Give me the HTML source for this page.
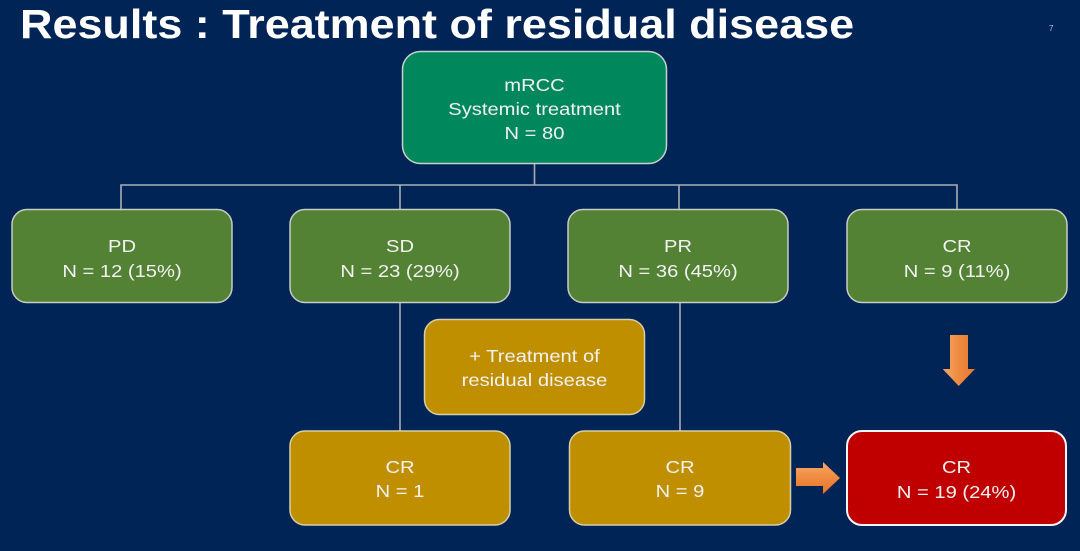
<!DOCTYPE html>
<html>
<head>
<meta charset="utf-8">
<style>
html,body{margin:0;padding:0;background:#002456;}
body{width:1080px;height:551px;overflow:hidden;}
svg{display:block;}
text{font-family:"Liberation Sans",Arial,sans-serif;}
</style>
</head>
<body>
<svg width="1080" height="551" viewBox="0 0 1080 551" xmlns="http://www.w3.org/2000/svg">
<defs>
<linearGradient id="og" x1="0" y1="0" x2="1" y2="0">
<stop offset="0" stop-color="#f7a766"/>
<stop offset="0.5" stop-color="#f08a40"/>
<stop offset="1" stop-color="#e6772c"/>
</linearGradient>
<linearGradient id="og2" x1="0" y1="0" x2="0" y2="1">
<stop offset="0" stop-color="#f7a766"/>
<stop offset="0.5" stop-color="#f08a40"/>
<stop offset="1" stop-color="#e6772c"/>
</linearGradient>
</defs>
<rect x="0" y="0" width="1080" height="551" fill="#002456"/>

<!-- Title -->
<text transform="translate(20,38) scale(1.11,1)" font-size="40.5" font-weight="bold" fill="#ffffff">Results : Treatment of residual disease</text>
<text x="1049" y="31" font-size="8" fill="#b8c4d8">7</text>

<!-- connectors -->
<g stroke="#a9adb5" stroke-width="1.6" fill="none">
<line x1="534.5" y1="164" x2="534.5" y2="185"/>
<polyline points="121,209 121,185 957,185 957,209"/>
<line x1="400" y1="185" x2="400" y2="209"/>
<line x1="679" y1="185" x2="679" y2="209"/>
<line x1="400" y1="303" x2="400" y2="431"/>
<line x1="680" y1="303" x2="680" y2="431"/>
</g>

<!-- top box -->
<rect x="402.5" y="51.5" width="264" height="112" rx="18" fill="#00875b" stroke="#c8d2cc" stroke-width="1.5"/>
<g font-size="18" fill="#f2f2f2" text-anchor="middle">
<text transform="translate(534.5,91) scale(1.12,1)">mRCC</text>
<text transform="translate(534.5,115) scale(1.12,1)">Systemic treatment</text>
<text transform="translate(534.5,139) scale(1.12,1)">N = 80</text>
</g>

<!-- second row -->
<g fill="#548235" stroke="#c8ccc4" stroke-width="1.5">
<rect x="12" y="209.5" width="220" height="93" rx="15"/>
<rect x="290" y="209.5" width="220" height="93" rx="15"/>
<rect x="568" y="209.5" width="220" height="93" rx="15"/>
<rect x="847" y="209.5" width="220" height="93" rx="15"/>
</g>
<g font-size="18" fill="#f2f2f2" text-anchor="middle">
<text transform="translate(122,252) scale(1.12,1)">PD</text>
<text transform="translate(122,277) scale(1.12,1)">N = 12 (15%)</text>
<text transform="translate(400,252) scale(1.12,1)">SD</text>
<text transform="translate(400,277) scale(1.12,1)">N = 23 (29%)</text>
<text transform="translate(678,252) scale(1.12,1)">PR</text>
<text transform="translate(678,277) scale(1.12,1)">N = 36 (45%)</text>
<text transform="translate(957,252) scale(1.12,1)">CR</text>
<text transform="translate(957,277) scale(1.12,1)">N = 9 (11%)</text>
</g>

<!-- treatment box -->
<rect x="424.5" y="319.5" width="220" height="95" rx="15" fill="#bf8f00" stroke="#d8cfa8" stroke-width="1.5"/>
<g font-size="18" fill="#f2f2f2" text-anchor="middle">
<text transform="translate(534.5,362) scale(1.12,1)">+ Treatment of</text>
<text transform="translate(534.5,386) scale(1.12,1)">residual disease</text>
</g>

<!-- third row -->
<g fill="#bf8f00" stroke="#d8cfa8" stroke-width="1.5">
<rect x="290" y="431" width="220" height="94" rx="15"/>
<rect x="569.5" y="431" width="221" height="94" rx="15"/>
</g>
<rect x="847" y="431" width="219" height="94" rx="15" fill="#c00000" stroke="#f4f4f4" stroke-width="2"/>
<g font-size="18" fill="#f2f2f2" text-anchor="middle">
<text transform="translate(400,473) scale(1.12,1)">CR</text>
<text transform="translate(400,497) scale(1.12,1)">N = 1</text>
<text transform="translate(680,473) scale(1.12,1)">CR</text>
<text transform="translate(680,497) scale(1.12,1)">N = 9</text>
<text transform="translate(956.5,473) scale(1.12,1)">CR</text>
<text transform="translate(956.5,498) scale(1.12,1)">N = 19 (24%)</text>
</g>

<!-- arrows -->
<polygon points="950,335 968,335 968,369 975,369 958.7,386 942.7,369 950,369" fill="url(#og)"/>
<polygon points="796,468 823,468 823,462 840,478 823,494 823,486 796,486" fill="url(#og2)"/>
</svg>
</body>
</html>
